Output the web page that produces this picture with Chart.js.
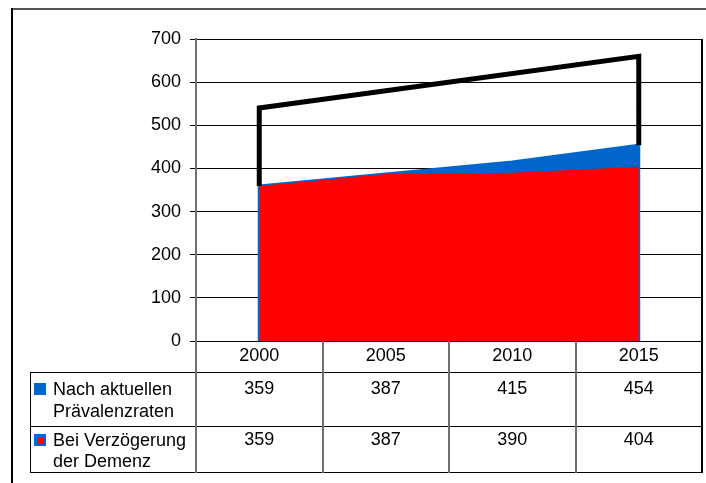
<!DOCTYPE html>
<html>
<head>
<meta charset="utf-8">
<script src="https://cdn.jsdelivr.net/npm/chart.js@4/dist/chart.umd.min.js"></script>
<style>
  html, body { margin: 0; padding: 0; background: #fff; }
  canvas { display: block; }
</style>
</head>
<body>
<canvas id="chart" width="706" height="483"></canvas>
<script>
'use strict';

// data
const YEARS = ['2000', '2005', '2010', '2015'];
const NACH_AKTUELLEN = [359, 387, 415, 454];
const BEI_VERZOEGERUNG = [359, 387, 390, 404];
const SPANNE_X = ['2000', '2000', '2015', '2015'];
const SPANNE_Y = [359, 540, 660, 454];
const ROW_LABELS = [
  ['Nach aktuellen', 'Prävalenzraten'],
  ['Bei Verzögerung', 'der Demenz']
];
const ROW_VALUES = [NACH_AKTUELLEN, BEI_VERZOEGERUNG];

const FONT_FAMILY = '"Liberation Sans", Arial, sans-serif';
const FONT = '18px ' + FONT_FAMILY;
const BLUE = '#0066cc';
const RED = '#ff0000';

const tablePlugin = {
  id: 'datatable',
  afterDatasetDraw(chart, args) {
    // outline the sides of the blue area before the red one covers it
    if (args.index !== 2) return;
    const ctx = chart.ctx;
    const pts = args.meta.data;
    const base = chart.scales.y.getPixelForValue(0);
    const first = pts[0], last = pts[pts.length - 1];
    ctx.save();
    ctx.strokeStyle = BLUE;
    ctx.lineWidth = 3;
    ctx.beginPath();
    ctx.moveTo(first.x, base); ctx.lineTo(first.x, first.y);
    ctx.moveTo(last.x, base); ctx.lineTo(last.x, last.y);
    ctx.stroke();
    ctx.restore();
  },
  afterDraw(chart) {
    const ctx = chart.ctx;
    const area = chart.chartArea;
    const x = chart.scales.x;
    const bottom = area.bottom;
    const headBottom = bottom + 31;
    const rowMid = bottom + 85;
    const tableBottom = bottom + 131;
    const tableLeft = 30;
    const colW = (area.right - area.left) / YEARS.length;

    ctx.save();
    // header years
    ctx.font = FONT;
    ctx.fillStyle = '#000';
    ctx.textAlign = 'center';
    ctx.textBaseline = 'middle';
    YEARS.forEach((y, i) => ctx.fillText(y, x.getPixelForValue(i), bottom + 15));

    // horizontal table lines
    ctx.strokeStyle = '#000';
    ctx.lineWidth = 1;
    ctx.beginPath();
    [headBottom, rowMid, tableBottom].forEach((yy) => {
      ctx.moveTo(tableLeft, yy + 0.5);
      ctx.lineTo(area.right, yy + 0.5);
    });
    ctx.moveTo(tableLeft + 0.5, headBottom);
    ctx.lineTo(tableLeft + 0.5, tableBottom + 1);
    ctx.stroke();

    // column separators
    ctx.strokeStyle = '#707070';
    ctx.lineWidth = 2;
    ctx.beginPath();
    for (let i = 1; i < YEARS.length; i++) {
      const cx = Math.round(area.left + i * colW);
      ctx.moveTo(cx, bottom);
      ctx.lineTo(cx, tableBottom + 1);
    }
    ctx.moveTo(area.left, bottom);
    ctx.lineTo(area.left, tableBottom + 1);
    ctx.stroke();

    // right border of plot + table
    ctx.strokeStyle = '#000';
    ctx.lineWidth = 2;
    ctx.beginPath();
    ctx.moveTo(area.right, area.top);
    ctx.lineTo(area.right, tableBottom + 1);
    ctx.stroke();

    // row labels, swatches, values
    const rows = [
      { top: headBottom, l1: 18, l2: 40 },
      { top: rowMid, l1: 15, l2: 36 }
    ];
    rows.forEach((row, r) => {
      const sy = row.top + row.l1 - 7;
      ctx.fillStyle = BLUE;
      ctx.fillRect(34, sy, 12, 12);
      if (r === 1) {
        ctx.fillStyle = RED;
        ctx.fillRect(37, sy + 3, 7, 7);
      }
      ctx.fillStyle = '#000';
      ctx.textAlign = 'left';
      ctx.fillText(ROW_LABELS[r][0], 53, row.top + row.l1);
      ctx.fillText(ROW_LABELS[r][1], 53, row.top + row.l2);
      ctx.textAlign = 'center';
      ROW_VALUES[r].forEach((v, i) => ctx.fillText(String(v), x.getPixelForValue(i), row.top + row.l1 - 1));
    });

    // outer frame
    ctx.strokeStyle = '#555';
    ctx.lineWidth = 2;
    ctx.beginPath();
    ctx.moveTo(11, 9);
    ctx.lineTo(chart.width, 9);
    ctx.stroke();
    ctx.strokeStyle = '#000';
    ctx.beginPath();
    ctx.moveTo(12, 8);
    ctx.lineTo(12, chart.height);
    ctx.stroke();
    ctx.restore();
  }
};

new Chart(document.getElementById('chart'), {
  type: 'line',
  data: {
    labels: YEARS,
    datasets: [
      {
        label: 'Spanne',
        data: SPANNE_X.map((xv, i) => ({ x: xv, y: SPANNE_Y[i] })),
        borderColor: '#000',
        borderWidth: 5,
        borderJoinStyle: 'miter',
        fill: false,
        pointRadius: 0,
        tension: 0,
        order: 0
      },
      {
        label: 'Bei Verzögerung der Demenz',
        data: BEI_VERZOEGERUNG,
        borderColor: RED,
        borderWidth: 0,
        backgroundColor: RED,
        fill: 'origin',
        pointRadius: 0,
        tension: 0,
        order: 1
      },
      {
        label: 'Nach aktuellen Prävalenzraten',
        data: NACH_AKTUELLEN,
        borderColor: BLUE,
        borderWidth: 3,
        backgroundColor: BLUE,
        fill: 'origin',
        pointRadius: 0,
        tension: 0,
        order: 2
      }
    ]
  },
  options: {
    responsive: false,
    animation: false,
    devicePixelRatio: 1,
    layout: { padding: { left: 0, right: 4, top: 39, bottom: 0 } },
    plugins: { legend: { display: false }, tooltip: { enabled: false } },
    scales: {
      x: {
        offset: true,
        grid: { display: false },
        border: { display: false },
        ticks: { display: false },
        afterFit: (s) => { s.height = 142; }
      },
      y: {
        min: 0,
        max: 700,
        ticks: {
          stepSize: 100,
          color: '#000',
          font: { family: FONT_FAMILY, size: 18 },
          padding: 9
        },
        grid: { color: '#000', lineWidth: 1, tickLength: 6 },
        border: { color: '#707070', width: 2 },
        afterFit: (s) => { s.width = 196; }
      }
    }
  },
  plugins: [tablePlugin]
});
</script>
</body>
</html>
